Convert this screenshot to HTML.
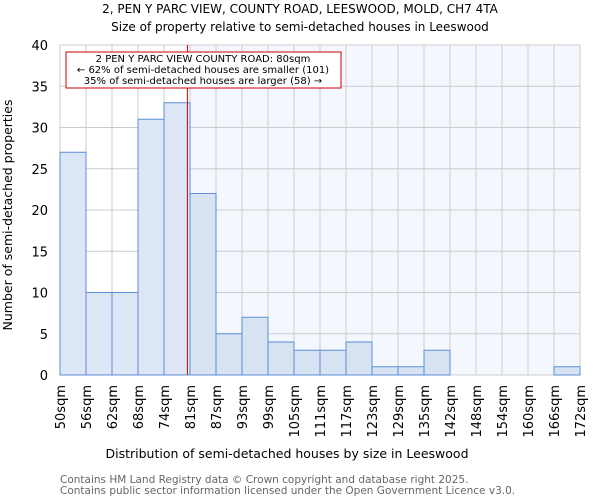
<!DOCTYPE html>
<html><head><meta charset="utf-8"><style>
body{margin:0;background:#fff;font-family:"DejaVu Sans","Liberation Sans",sans-serif}
svg text{font-family:"DejaVu Sans","Liberation Sans",sans-serif}
</style></head><body>
<svg id="c" width="600" height="500" xmlns="http://www.w3.org/2000/svg">
<text x="300" y="13" font-size="12" text-anchor="middle">2, PEN Y PARC VIEW, COUNTY ROAD, LEESWOOD, MOLD, CH7 4TA</text>
<text x="300" y="31" font-size="12" text-anchor="middle">Size of property relative to semi-detached houses in Leeswood</text>
<g id="plot"></g>
<text x="287" y="458" font-size="12.5" text-anchor="middle">Distribution of semi-detached houses by size in Leeswood</text>
<text transform="translate(12,215) rotate(-90)" font-size="12.5" text-anchor="middle">Number of semi-detached properties</text>
<text x="60" y="483" font-size="10.5" fill="#666">Contains HM Land Registry data © Crown copyright and database right 2025.</text>
<text x="60" y="494" font-size="10.5" fill="#666">Contains public sector information licensed under the Open Government Licence v3.0.</text>
</svg>
<script>
const categories=["50sqm","56sqm","62sqm","68sqm","74sqm","81sqm","87sqm","93sqm","99sqm","105sqm","111sqm","117sqm","123sqm","129sqm","135sqm","142sqm","148sqm","154sqm","160sqm","166sqm","172sqm"];
const counts=[27,10,10,31,33,22,5,7,4,3,3,4,1,1,3,0,0,0,0,1];
const yTicks=[0,5,10,15,20,25,30,35,40];
const markerBin=4.9;
const NS="http://www.w3.org/2000/svg";
const X0=60,X1=580,Y0=375,Y1=45,n=counts.length;
const bw=(X1-X0)/n;
const xs=i=>X0+i*bw;
const ys=v=>Y0-(v/40)*(Y0-Y1);
const g=document.getElementById('plot');
function mk(t,a){const e=document.createElementNS(NS,t);for(const k in a)e.setAttribute(k,a[k]);g.appendChild(e);return e;}
const mx=xs(markerBin);
let e=mk('rect',{x:mx,y:Y1,width:X1-mx,height:Y0-Y1,fill:'#f4f7fd'});


for(let i=0;i<=n;i++){e=mk('line',{x1:xs(i),x2:xs(i),y1:Y1,y2:Y0,stroke:'#ccc','stroke-width':1});

}
yTicks.forEach(t=>{e=mk('line',{x1:X0,x2:X1,y1:ys(t),y2:ys(t),stroke:'#ccc','stroke-width':1});


e=mk('text',{x:X0-12,y:ys(t)+5,'font-size':13,'text-anchor':'end'});e.textContent=t;

});
counts.forEach((v,i)=>{if(v<=0)return;e=mk('rect',{x:xs(i),y:ys(v),width:bw,height:Y0-ys(v),fill:i<5?'#dde6f4':'#d7e2f3',stroke:'#5b8fd6','stroke-width':1});

});
categories.forEach((c,i)=>{const x=xs(i)+5;e=mk('text',{x:0,y:0,'font-size':13,'text-anchor':'end',transform:`translate(${x},${Y0+10}) rotate(-90)`});e.textContent=c;

});
e=mk('line',{x1:mx,x2:mx,y1:Y1,y2:Y0,stroke:'#c00','stroke-width':1});


e=mk('rect',{x:66,y:52,width:275,height:36,fill:'#fff',stroke:'#c00','stroke-width':1});


["2 PEN Y PARC VIEW COUNTY ROAD: 80sqm","← 62% of semi-detached houses are smaller (101)","35% of semi-detached houses are larger (58) →"].forEach((t,k)=>{e=mk('text',{x:203,y:62+k*11,'font-size':10,'text-anchor':'middle'});e.textContent=t;

});
</script>
</body></html>
